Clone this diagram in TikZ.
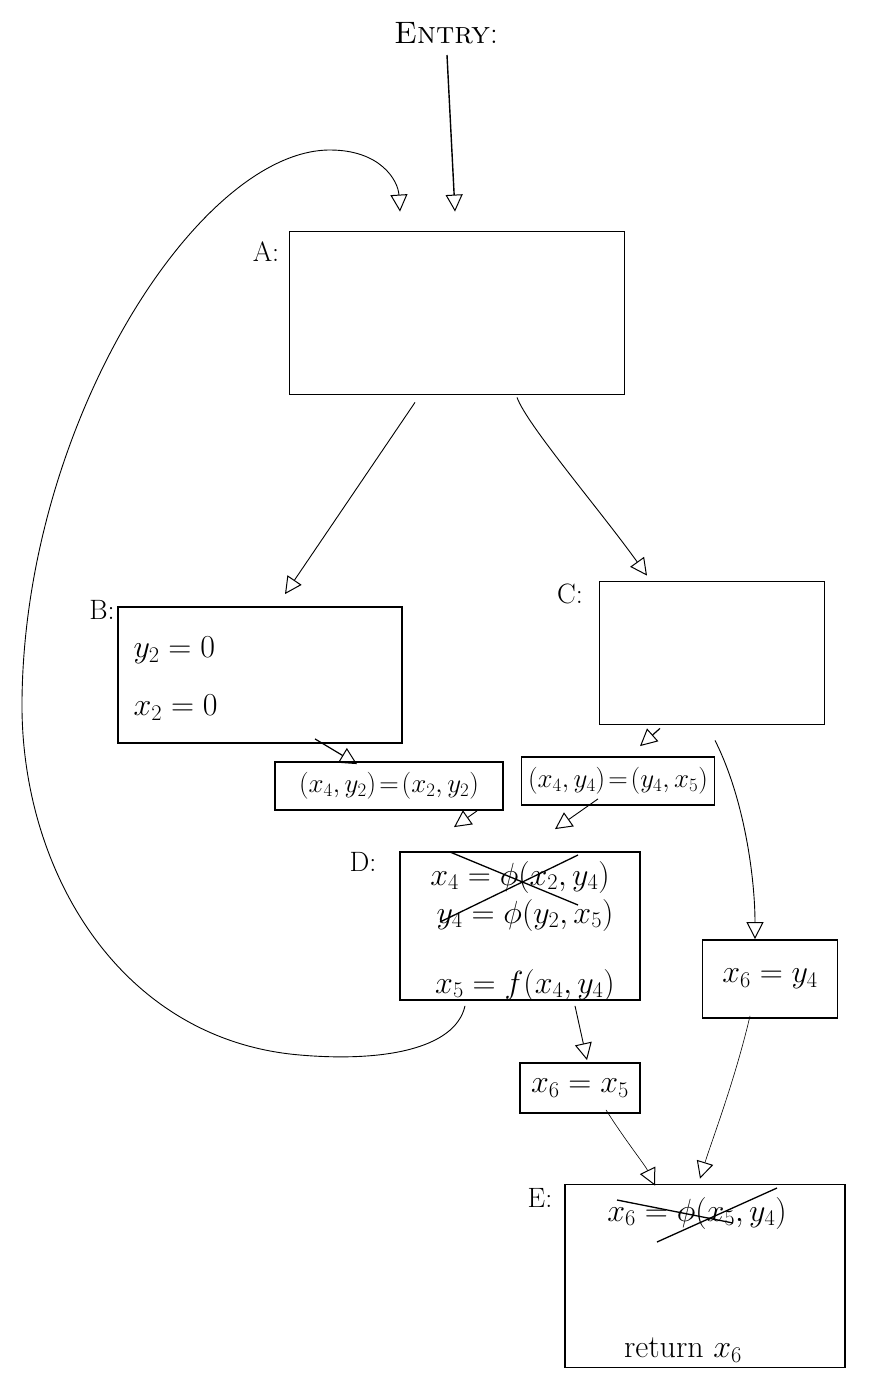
\RequirePackage{fix-cm}
\documentclass[tikz,border=0pt]{standalone}
\usetikzlibrary{arrows.meta,calc}
\begin{document}
\begin{tikzpicture}[x=1pt,y=-1pt,
  blk/.style={draw,line width=1.8pt,inner sep=0pt},
  arr/.style={line width=0.9pt,-{Triangle[open,length=17pt,width=17pt,line width=1pt]}},
  lab/.style={font=\fontsize{28}{32}\selectfont},
  eq/.style={font=\fontsize{32}{36}\selectfont},
  small eq/.style={font=\fontsize{27}{31}\selectfont},
  cross/.style={line width=1.3pt}]
\fill[white] (0,0) rectangle (875,1374);
\useasboundingbox (0,0) rectangle (875,1374);

% basic blocks
\node[blk,minimum width=335pt,minimum height=163pt] (A) at (457,313) {};
\node[blk,minimum width=284pt,minimum height=136pt] (B) at (260,675) {};
\node[blk,minimum width=225pt,minimum height=143pt] (C) at (712,653) {};
\node[blk,minimum width=228pt,minimum height=48pt,small eq] (EB) at (389,786) {$(x_4,y_2)\!=\!(x_2,y_2)$};
\node[blk,minimum width=193pt,minimum height=48pt,small eq] (EC) at (618,781) {$(x_4,y_4)\!=\!(y_4,x_5)$};
\node[blk,minimum width=240pt,minimum height=148pt] (D) at (520,926) {};
\node[blk,minimum width=135pt,minimum height=78pt,eq] (G) at (770,979) {$x_6 = y_4$};
\node[blk,minimum width=120pt,minimum height=50pt,eq] (F) at (580,1088) {$x_6 = x_5$};
\node[blk,minimum width=280pt,minimum height=183pt] (E) at (705,1276) {};

% block labels
\node[lab,font=\fontsize{31}{35}\selectfont] (entry) at (446,33) {\textsc{Entry}:};
\node[lab] (lA) at (266,252) {A:};
\node[lab] (lB) at (102,610) {B:};
\node[lab] (lC) at (570,594) {C:};
\node[lab] (lD) at (363,862) {D:};
\node[lab] (lE) at (540,1198) {E:};

% block contents
\node[eq,anchor=west] (b1) at (130,650) {$y_2 = 0$};
\node[eq,anchor=west] (b2) at (130,708) {$x_2 = 0$};
\node[eq] (d1) at (520,877) {$x_4 = \phi(x_2,y_4)$};
\node[eq] (d2) at (525,915) {$y_4 = \phi(y_2,x_5)$};
\node[eq] (d3) at (525,985) {$x_5 = f(x_4,y_4)$};
\node[eq] (e1) at (697,1213) {$x_6 = \phi(x_5,y_4)$};
\node[eq] (e2) at (683,1350) {return $x_6$};

% struck-out phi functions
\draw[cross] ($(D.center)+(-70,-74)$) -- ($(D.center)+(58,-21)$);
\draw[cross] ($(D.center)+(-80,-4)$) -- ($(D.center)+(58,-71)$);
\draw[cross] ($(E.center)+(-88,-76)$) -- ($(E.center)+(28,-53)$);
\draw[cross] ($(E.center)+(-48,-34)$) -- ($(E.center)+(72,-88)$);

% control flow edges
\coordinate (entrytail) at (447,55);
\draw[arr,line width=1.4pt] (entrytail) -- ($(A.north)+(-2,-19)$);
\draw[arr] ($(D.south)+(-55,5)$)
  .. controls (455,1050) and (380,1062) .. (300,1055)
  .. controls (120,1040) and (20,870) .. (22,700)
  .. controls (25,420) and (200,150) .. (330,150)
  .. controls (380,150) and (398,180) .. ($(A.north)+(-57,-19)$);
\draw[arr] ($(A.south)+(-42,7)$) -- ($(B.north)+(25,-12)$);
\draw[arr] ($(A.south)+(60,2)$) .. controls (527,425) and (600,510) .. ($(C.north)+(-65,-5)$);
\draw[arr,line width=1.2pt] ($(B.south)+(55,-5)$) -- ($(EB.north)+(-32,3)$);
\draw[arr,line width=1.2pt] ($(C.south)+(-52,3)$) -- ($(EC.north)+(22,-10)$);
\draw[arr] ($(EB.south)+(88,0)$) -- ($(D.north)+(-66,-24)$);
\draw[arr] ($(EC.south)+(-20,-7)$) -- ($(D.north)+(35,-22)$);
\draw[arr] ($(C.south)+(3,15)$) .. controls (745,800) and (755,880) .. ($(G.north)+(-15,0)$);
\draw[arr] ($(D.south)+(55,5)$) -- ($(F.north)+(7,-2)$);
\draw[arr,line width=0.6pt] ($(F.south)+(26,-4)$) .. controls (625,1140) and (645,1165) .. ($(E.north)+(-50,2)$);
\draw[arr,line width=0.6pt] ($(G.south)+(-20,-3)$) .. controls (735,1080) and (712,1140) .. ($(E.north)+(-5,-5)$);
\end{tikzpicture}
\end{document}
